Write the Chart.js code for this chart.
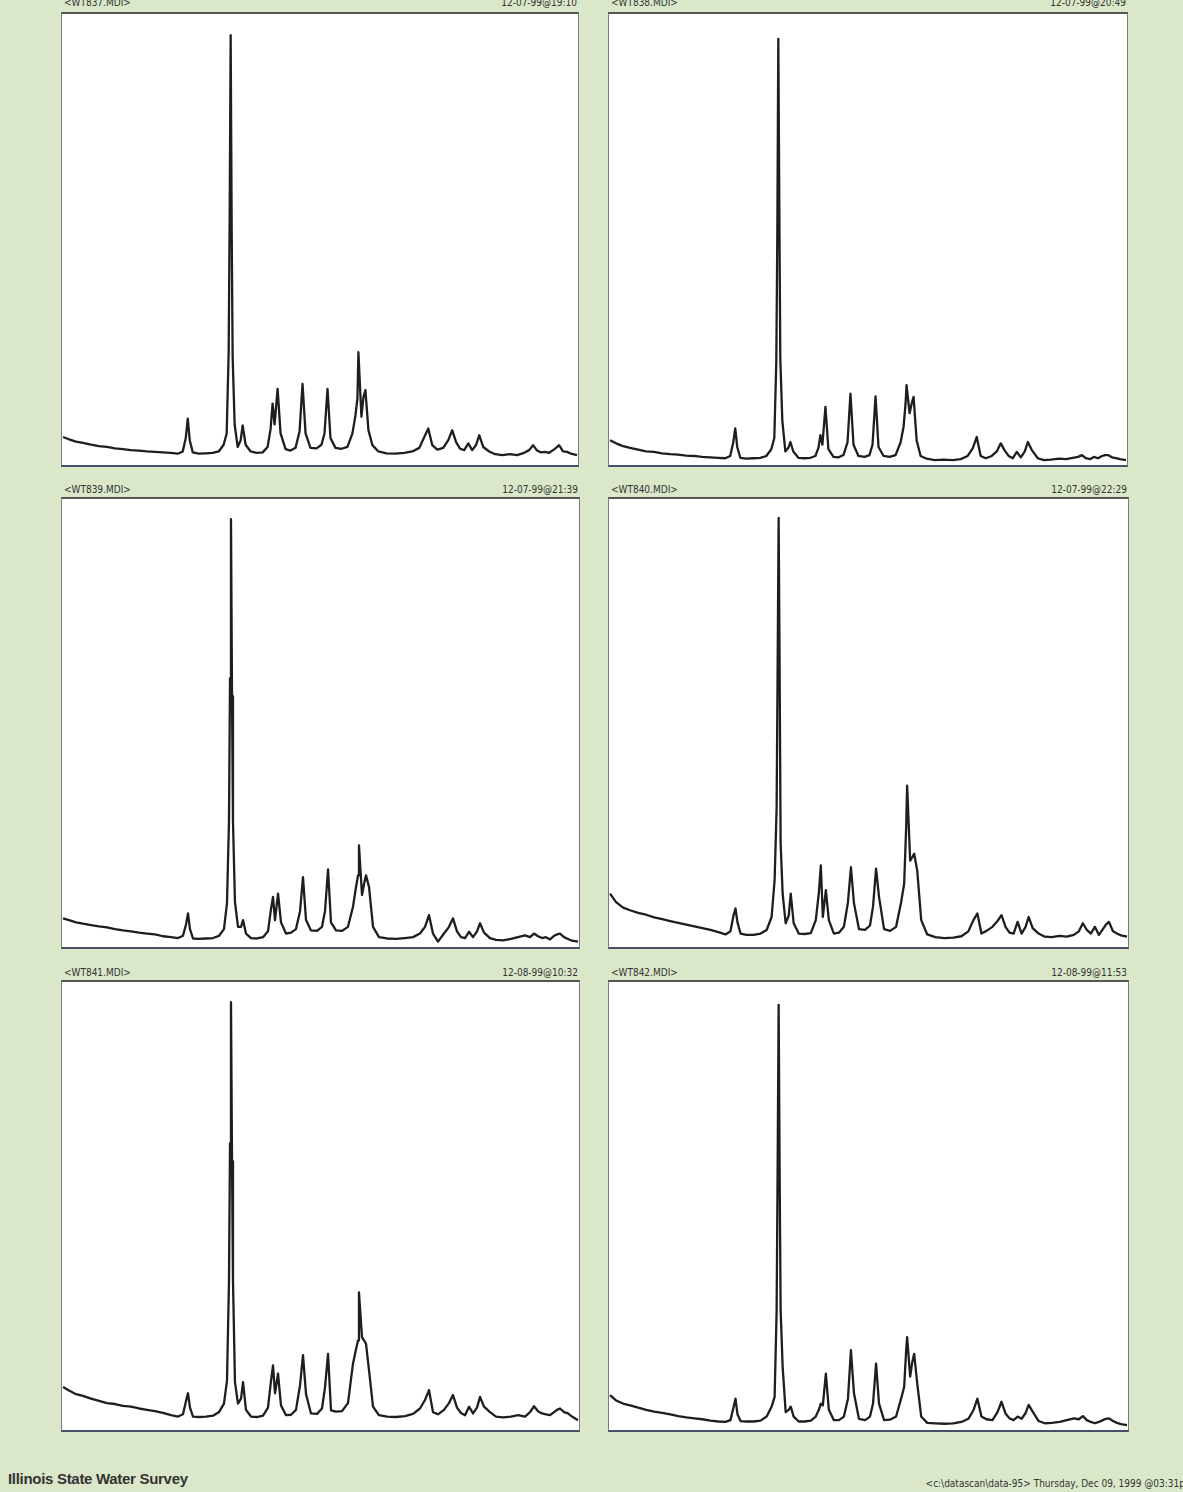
<!DOCTYPE html>
<html>
<head>
<meta charset="utf-8">
<script src="https://cdn.jsdelivr.net/npm/chart.js@4/dist/chart.umd.min.js"></script>
<style>
  html, body { margin: 0; padding: 0; }
  body {
    width: 1183px; height: 1492px; overflow: hidden; position: relative;
    background: #dae8c9;
    font-family: "Liberation Sans Narrow", "DejaVu Sans Condensed", "Liberation Sans", sans-serif;
  }
  .panel {
    position: absolute; box-sizing: border-box; background: #fff;
    border-left: 1px solid #7a7a7a; border-right: 1px solid #7a7a7a;
    border-top: 2px solid #555; border-bottom: 2px solid #4a4f6a;
  }
  .panel canvas { display: block; }
  .hdr {
    position: absolute; height: 10px; font-size: 10px; line-height: 10px;
    color: #333; white-space: nowrap;
  }
  .hdr .r { position: absolute; right: 0; top: 0; }
  #foot-left { position: absolute; left: 8px; top: 1470px; font-size: 15px; font-weight: bold; color: #333; font-family: "Liberation Sans", sans-serif; letter-spacing: -0.3px; }
  #foot-right { position: absolute; right: -2px; top: 1478px; font-size: 10px; color: #333; white-space: nowrap; }
</style>
</head>
<body>
<div id="foot-left">Illinois State Water Survey</div>
<div id="foot-right">&lt;c:\datascan\data-95&gt; Thursday, Dec 09, 1999 @03:31p</div>
<script>
// scan labels
const fileNames = ['<WT837.MDI>', '<WT838.MDI>', '<WT839.MDI>', '<WT840.MDI>', '<WT841.MDI>', '<WT842.MDI>'];
const scanTimes = ['12-07-99@19:10', '12-07-99@20:49', '12-07-99@21:39', '12-07-99@22:29', '12-08-99@10:32', '12-08-99@11:53'];

// shared 2-theta grid (degrees)
const twoTheta = [
  4.14, 4.95, 5.90, 6.84, 7.93, 9.01, 10.09, 11.18, 12.26, 13.34,
  14.43, 15.51, 16.59, 17.68, 18.76, 19.71, 20.38, 20.79, 21.06, 21.33,
  21.74, 22.55, 23.50, 24.45, 25.26, 25.93, 26.34, 26.61, 26.75, 26.88,
  27.02, 27.15, 27.42, 27.83, 28.24, 28.51, 28.91, 29.59, 30.40, 31.22,
  31.89, 32.30, 32.57, 32.84, 33.25, 33.65, 34.33, 35.01, 35.68, 36.23,
  36.63, 37.04, 37.71, 38.53, 39.20, 39.61, 40.02, 40.42, 41.10, 41.91,
  42.72, 43.40, 43.81, 44.08, 44.21, 44.62, 44.89, 45.16, 45.57, 46.11,
  46.92, 48.01, 49.22, 50.44, 51.53, 52.47, 53.15, 53.69, 54.23, 54.91,
  55.72, 56.40, 56.94, 57.48, 58.02, 58.57, 59.11, 59.65, 60.19, 60.60,
  61.14, 61.95, 62.76, 63.71, 64.79, 65.74, 66.69, 67.37, 67.91, 68.45,
  68.99, 69.53, 70.08, 70.62, 71.02, 71.43, 71.97, 72.51, 73.05, 73.87
];

// intensities (relative counts, 0-1000 full scale)
const wt837 = [
  62, 57, 52, 49, 45, 42, 40, 37, 35, 33,
  32, 30, 29, 28, 27, 25, 30, 60, 103, 55,
  28, 25, 26, 27, 30, 45, 70, 250, 560, 953,
  520, 240, 90, 40, 55, 88, 45, 30, 27, 28,
  40, 80, 136, 90, 169, 70, 35, 32, 38, 75,
  180, 70, 38, 37, 45, 70, 169, 60, 38, 36,
  40, 70, 110, 148, 250, 107, 150, 166, 77, 44,
  30, 26, 25, 27, 30, 38, 62, 81, 44, 34,
  38, 55, 77, 50, 36, 33, 48, 33, 45, 66,
  40, 30, 24, 22, 24, 22, 27, 33, 44, 32,
  28, 29, 27, 33, 38, 44, 30, 29, 25, 22
];
const wt838 = [
  55, 48, 42, 38, 34, 30, 29, 26, 24, 23,
  21, 20, 18, 17, 16, 15, 20, 50, 81, 40,
  16, 14, 15, 16, 20, 35, 60, 230, 520, 945,
  560, 235, 99, 30, 38, 51, 30, 16, 15, 16,
  20, 38, 66, 45, 129, 35, 18, 17, 22, 50,
  158, 45, 20, 18, 22, 45, 152, 40, 20, 18,
  22, 50, 85, 137, 177, 115, 135, 151, 55, 20,
  14, 11, 12, 11, 13, 20, 37, 62, 20, 15,
  20, 30, 48, 32, 20, 15, 29, 17, 30, 51,
  33, 15, 11, 12, 14, 13, 16, 18, 22, 15,
  13, 18, 15, 20, 22, 22, 17, 15, 13, 11
];
const wt839 = [
  64, 60, 55, 52, 49, 46, 44, 40, 37, 35,
  32, 30, 28, 24, 22, 20, 25, 50, 75, 40,
  19, 18, 19, 20, 25, 40, 98, 282, 600, 955,
  560, 280, 100, 45, 45, 60, 30, 20, 19, 22,
  35, 85, 112, 60, 119, 55, 30, 32, 40, 80,
  156, 60, 37, 36, 45, 80, 173, 55, 37, 36,
  45, 90, 134, 160, 227, 116, 140, 160, 134, 45,
  22, 19, 18, 20, 22, 30, 45, 71, 30, 12,
  30, 45, 64, 35, 22, 20, 34, 22, 35, 53,
  32, 20, 16, 15, 18, 22, 26, 22, 30, 24,
  20, 22, 17, 25, 28, 30, 22, 18, 14, 12
];
const wt840 = [
  119, 100, 88, 82, 76, 72, 66, 62, 58, 54,
  50, 46, 42, 38, 33, 28, 35, 70, 86, 55,
  30, 27, 27, 30, 38, 67, 150, 312, 640, 958,
  600, 231, 119, 53, 70, 119, 53, 30, 29, 31,
  60, 120, 182, 67, 127, 60, 30, 32, 45, 100,
  178, 98, 40, 38, 48, 90, 175, 112, 40, 36,
  45, 100, 141, 267, 360, 193, 200, 208, 171, 60,
  28, 22, 20, 21, 24, 35, 60, 75, 30, 36,
  45, 58, 71, 45, 32, 30, 56, 30, 45, 67,
  42, 30, 23, 22, 25, 23, 27, 35, 53, 38,
  30, 45, 27, 40, 50, 56, 35, 30, 26, 23
];
const wt841 = [
  96, 88, 80, 76, 70, 65, 60, 58, 54, 52,
  48, 45, 42, 38, 33, 30, 35, 65, 82, 50,
  30, 29, 30, 32, 40, 59, 110, 333, 640, 955,
  600, 333, 107, 59, 70, 107, 45, 30, 29, 32,
  50, 110, 144, 82, 126, 55, 33, 34, 45, 100,
  167, 80, 37, 36, 48, 95, 170, 44, 41, 42,
  60, 148, 180, 200, 307, 207, 200, 193, 133, 52,
  33, 30, 29, 31, 36, 48, 67, 89, 40, 35,
  45, 60, 78, 50, 38, 33, 52, 37, 50, 74,
  52, 40, 30, 28, 30, 33, 30, 40, 53, 42,
  37, 35, 33, 40, 45, 48, 40, 37, 30, 22
];
const wt842 = [
  78, 66, 59, 55, 50, 45, 41, 38, 35, 31,
  28, 26, 24, 21, 19, 18, 22, 50, 70, 35,
  20, 19, 19, 21, 30, 52, 74, 267, 600, 949,
  560, 267, 141, 40, 45, 52, 30, 19, 19, 21,
  30, 45, 59, 55, 126, 45, 22, 22, 30, 70,
  178, 82, 25, 22, 30, 59, 148, 59, 22, 23,
  30, 70, 96, 178, 207, 119, 150, 170, 104, 30,
  16, 15, 14, 15, 18, 25, 44, 70, 30, 24,
  22, 40, 63, 37, 26, 22, 30, 25, 38, 56,
  41, 20, 15, 16, 18, 22, 26, 24, 31, 22,
  18, 15, 18, 22, 25, 26, 20, 16, 13, 11
];

const scans = [wt837, wt838, wt839, wt840, wt841, wt842];
const boxes = [
  { left: 61, top: 12, width: 518, height: 455 },
  { left: 608, top: 12, width: 520, height: 455 },
  { left: 61, top: 497, width: 519, height: 452 },
  { left: 608, top: 497, width: 521, height: 452 },
  { left: 61, top: 980, width: 519, height: 452 },
  { left: 608, top: 980, width: 521, height: 452 }
];

scans.forEach((counts, i) => {
  const b = boxes[i];

  const hdr = document.createElement('div');
  hdr.className = 'hdr';
  hdr.style.left = (b.left + 3) + 'px';
  hdr.style.top = (i < 2 ? b.top - 14 : b.top - 12) + 'px';
  hdr.style.width = (b.width - 5) + 'px';
  hdr.innerHTML = '<span></span><span class="r"></span>';
  hdr.children[0].textContent = fileNames[i];
  hdr.children[1].textContent = scanTimes[i];
  document.body.appendChild(hdr);

  const box = document.createElement('div');
  box.className = 'panel';
  box.style.left = b.left + 'px';
  box.style.top = b.top + 'px';
  box.style.width = b.width + 'px';
  box.style.height = b.height + 'px';
  const cv = document.createElement('canvas');
  cv.width = b.width - 2;
  cv.height = b.height - 4;
  box.appendChild(cv);
  document.body.appendChild(box);

  new Chart(cv.getContext('2d'), {
    type: 'line',
    data: {
      datasets: [{
        data: twoTheta.map((t, k) => ({ x: t, y: counts[k] })),
        borderColor: '#1e1e1e',
        borderWidth: 2.3,
        borderJoinStyle: 'round',
        pointRadius: 0,
        tension: 0
      }]
    },
    options: {
      responsive: false,
      animation: false,
      layout: { padding: 0 },
      plugins: { legend: { display: false }, tooltip: { enabled: false } },
      scales: {
        x: { type: 'linear', min: 4, max: 74, display: false },
        y: { min: 0, max: 1000, display: false }
      }
    }
  });
});
</script>
</body>
</html>
